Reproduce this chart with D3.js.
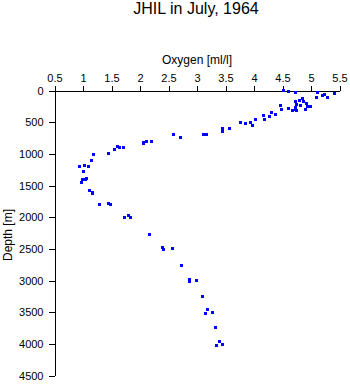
<!DOCTYPE html>
<html><head><meta charset="utf-8">
<script src="https://cdn.jsdelivr.net/npm/d3@7"></script>
<style>
body{margin:0;background:#fff;}
svg{display:block;font-family:"Liberation Sans",Arial,sans-serif;}
</style></head>
<body><svg id="c" width="350" height="384"></svg>
<script>
const title = "JHIL in July, 1964";
const xLabel = "Oxygen [ml/l]";
const yLabel = "Depth [m]";
const xTicks = [0.5,1,1.5,2,2.5,3,3.5,4,4.5,5,5.5];
const yTicks = [0,500,1000,1500,2000,2500,3000,3500,4000,4500];
const oxygen = [4.51,4.60,4.73,5.11,5.10,5.21,5.23,5.29,5.41,4.85,4.80,4.72,4.74,4.73,4.72,4.87,4.92,4.93,4.99,4.82,4.90,4.46,4.49,4.61,4.68,4.75,4.30,4.37,4.17,4.18,4.28,4.02,3.76,3.85,3.94,3.97,3.57,3.44,3.44,3.11,3.16,2.58,2.71,2.07,2.11,2.07,2.20,1.64,1.61,1.71,1.55,1.45,1.18,1.15,0.94,1.02,1.10,1.00,1.07,1.04,0.99,0.98,1.11,1.16,1.17,1.29,1.45,1.49,1.72,1.79,1.83,2.17,2.40,2.41,2.57,2.72,2.87,2.87,2.99,3.10,3.18,3.15,3.27,3.32,3.39,3.35,3.44];
const depth = [0,11,27,31,110,79,63,115,52,131,153,178,225,263,304,173,209,247,257,236,299,236,299,288,310,310,351,378,398,461,405,457,504,515,509,556,603,594,646,695,698,698,745,814,798,840,798,902,882,902,934,997,1003,1113,1202,1186,1202,1281,1397,1406,1406,1454,1580,1611,1627,1806,1785,1800,2005,1973,2005,2273,2477,2509,2500,2761,2977,3008,2997,3250,3465,3517,3501,3749,3958,4021,4005];

const svg = d3.select("#c");
const x = d3.scaleLinear().domain([0.5,5.5]).range([54.5,339.5]);
const y = d3.scaleLinear().domain([0,4500]).range([90.5,375.5]);

svg.append("text").attr("x",196).attr("y",14).attr("text-anchor","middle")
  .attr("font-size",16).attr("fill","#000").text(title);
svg.append("text").attr("x",197).attr("y",64).attr("text-anchor","middle")
  .attr("font-size",12).attr("fill","#000").text(xLabel);
svg.append("text").attr("transform","translate(12,235) rotate(-90)").attr("text-anchor","middle")
  .attr("font-size",12).attr("fill","#000").text(yLabel);

const gx = svg.append("g").attr("transform","translate(0,90.5)")
  .call(d3.axisTop(x).tickValues(xTicks).tickFormat(d3.format("")).tickSize(5).tickSizeOuter(0).tickPadding(4));
const gy = svg.append("g").attr("transform","translate(54.5,0)")
  .call(d3.axisLeft(y).tickValues(yTicks).tickFormat(d3.format("d")).tickSize(6).tickSizeOuter(0).tickPadding(5));
[gx,gy].forEach(g=>{
  g.selectAll("path,line").attr("stroke","#000").attr("stroke-width",1).attr("shape-rendering","crispEdges");
  g.selectAll("text").attr("font-size",11).attr("fill","#000").attr("font-family","Liberation Sans, Arial, sans-serif");
});

svg.append("g").selectAll("rect").data(oxygen.map((o,i)=>[o,depth[i]])).join("rect")
  .attr("x",d=>Math.round(x(d[0])-1.5)).attr("y",d=>Math.round(y(d[1])-1.5))
  .attr("width",3).attr("height",3).attr("fill","#0000ff").attr("shape-rendering","crispEdges");
</script></body></html>
